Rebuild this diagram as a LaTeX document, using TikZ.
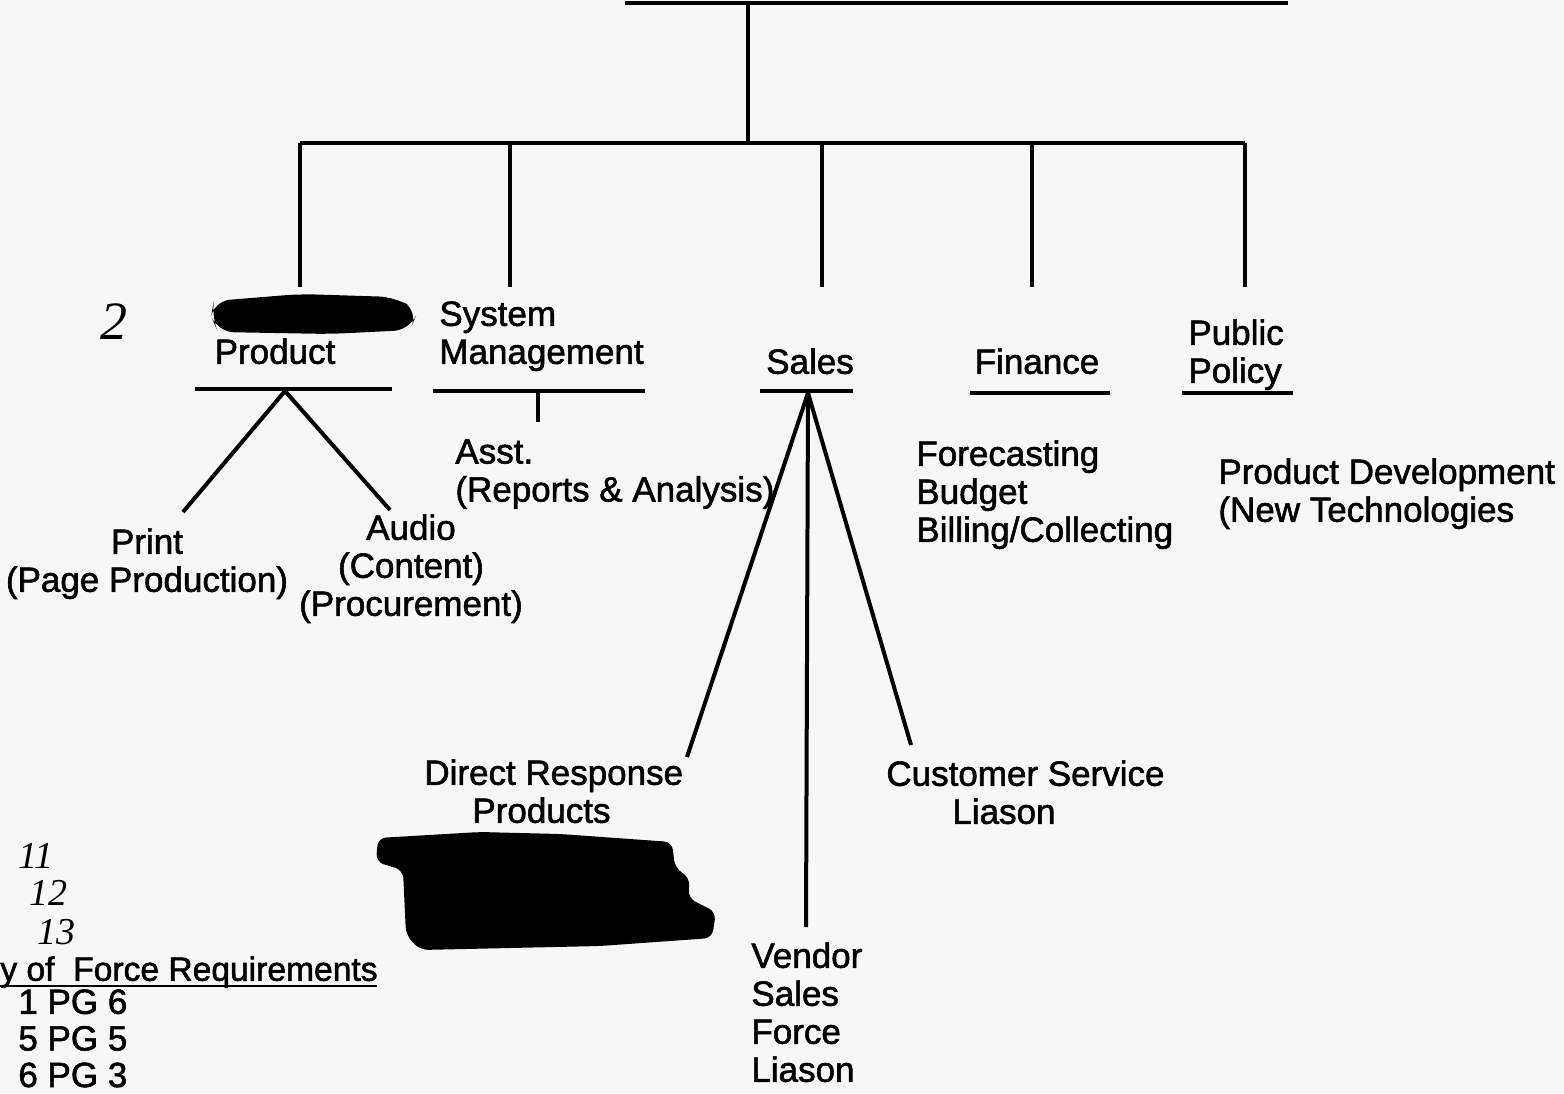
\documentclass[tikz,border=0pt]{standalone}
\usepackage{fontspec}
\setmainfont{Liberation Sans}[FakeBold=1.6]
\newfontfamily\handfont{Liberation Serif}
\usetikzlibrary{positioning}

\definecolor{paper}{RGB}{247,247,247}

\begin{document}
\begin{tikzpicture}[x=0.5pt,y=-0.5pt,
    tree/.style={line width=2pt},
    rule/.style={line width=1.6pt},
    txt/.style={font=\fontsize{17.5}{19}\selectfont, inner sep=0pt, anchor=north},
    txtl/.style={txt, anchor=north west, align=left},
    txtc/.style={txt, align=center},
    hand/.style={font=\handfont\itshape\fontsize{19}{19}\selectfont, inner sep=0pt}]
    \fill[paper] (0,0) rectangle (1564,1093);
    \useasboundingbox (0,0) rectangle (1564,1093);

    % --- Head of the chart ---
    \coordinate (headL) at (625,3);
    \coordinate (headR) at (1288,3);
    \coordinate (head) at (748,3);
    \coordinate (bar) at (748,143);
    \draw[tree] (headL) -- (headR);
    \draw[tree] (head) -- (bar);
    \coordinate (barL) at (300,143);
    \coordinate (barR) at (1245,143);
    \draw[tree] (barL) -- (barR);
    \foreach \n/\x in {prod/300,sys/510,sales/822,fin/1032,pol/1245}{
        \coordinate (\n top) at (\x,143);
        \coordinate (\n end) at (\x,287);
        \draw[tree] (\n top) -- (\n end);
    }

    % --- Departments ---
    \node[hand, font=\handfont\itshape\fontsize{27}{27}\selectfont] (two) at (114,322) {2};
    \fill[rounded corners=8pt] (214,301) -- (300,294) -- (395,297) -- (418,311)
        -- (410,330) -- (330,334) -- (218,332) -- (211,316) -- cycle;
    \node[txtc] (prod) at (275,338) {Product};
    \draw[rule] (195,389) -- (392,389);

    \node[txtl] (sys) at (439,301) {System\\Management};
    \draw[rule] (433,391) -- (645,391);

    \node[txtc] (sales) at (810,348) {Sales};
    \draw[rule] (760,391) -- (853,391);

    \node[txtc] (fin) at (1037,348) {Finance};
    \draw[rule] (970,393) -- (1110,393);

    \node[txtl] (pol) at (1188,319) {Public\\Policy};
    \draw[rule] (1182,393) -- (1293,393);

    % --- Product ---
    \coordinate (prodhub) at (285,391);
    \coordinate (printtip) at (183,512);
    \coordinate (audiotip) at (390,510);
    \draw[tree] (prodhub) -- (printtip);
    \draw[tree] (prodhub) -- (audiotip);
    \node[txtc] (print) at (147,528) {Print\\(Page Production)};
    \node[txtc] (audio) at (411,514) {Audio\\(Content)\\(Procurement)};

    % --- System Management ---
    \coordinate (syshub) at (538,391);
    \coordinate (systip) at (538,422);
    \draw[tree] (syshub) -- (systip);
    \node[txtl] (asst) at (455,439) {Asst.\\(Reports \& Analysis)};

    % --- Sales ---
    \coordinate (saleshub) at (808,393);
    \coordinate (directtip) at (687,757);
    \coordinate (vendortip) at (806,927);
    \coordinate (custtip) at (911,745);
    \draw[tree] (saleshub) -- (directtip);
    \draw[tree] (saleshub) -- (vendortip);
    \draw[tree] (saleshub) -- (custtip);
    \node[txtl] (direct) at (424,759) {Direct Response\\\hspace*{24pt}Products};
    \fill[rounded corners=4pt] (378,838) -- (480,832) -- (560,834) -- (672,842)
        -- (675,868) -- (690,878) -- (688,898) -- (716,912) -- (712,938)
        -- (600,946) -- (420,950) -- (406,935) -- (403,870) -- (376,862) -- cycle;
    \node[txtl] (vendor) at (751,942) {Vendor\\Sales\\Force\\Liason};
    \node[txtl] (cust) at (886,760) {Customer Service\\\hspace*{33pt}Liason};

    % --- Finance and Public Policy ---
    \node[txtl] (finlist) at (916,440) {Forecasting\\Budget\\Billing/Collecting};
    \node[txtl] (newtech) at (1218,458) {Product Development\\(New Technologies};

    % --- Force requirements ---
    \node[hand] (n11) at (36,856) {11};
    \node[hand] (n12) at (48,893) {12};
    \node[hand] (n13) at (56,932) {13};
    \node[txtl, font=\fontsize{16.8}{19}\selectfont] (force) at (0,956) {y of \ Force Requirements};
    \draw[line width=1.2pt] (0,986) -- (377,986);
    \node[txtl, font=\fontsize{17.5}{18.3}\selectfont] (pages) at (18,989) {1 PG 6\\5 PG 5\\6 PG 3};
\end{tikzpicture}
\end{document}
